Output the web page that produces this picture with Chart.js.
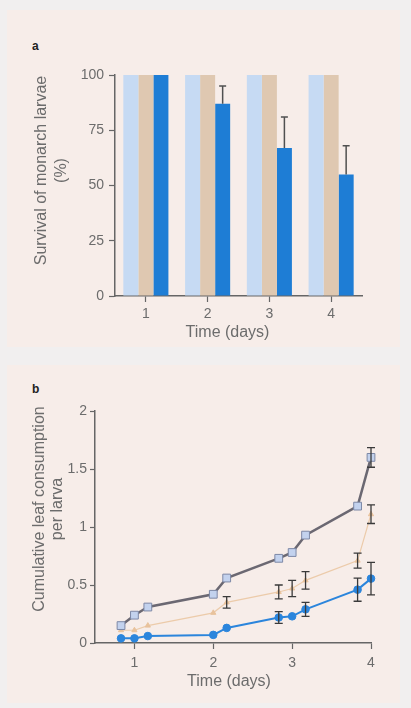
<!DOCTYPE html>
<html><head><meta charset="utf-8">
<script src="https://cdn.jsdelivr.net/npm/chart.js@4/dist/chart.umd.min.js"></script>
<style>
html,body{margin:0;padding:0;background:#f1efef;width:411px;height:708px;overflow:hidden;position:relative;}
.panel{position:absolute;background:#f7ede9;}
#pa{left:7px;top:10px;width:393px;height:337px;}
#pb{left:7px;top:365px;width:393px;height:338px;}
.lbl{position:absolute;font:bold 12px "Liberation Sans",Arial,sans-serif;color:#222;}
canvas{position:absolute;left:0;}
#ca{top:0;width:411px;height:350px;}
#cb{top:350px;width:411px;height:358px;}
</style></head>
<body>
<div class="panel" id="pa"></div><div class="panel" id="pb"></div>
<div class="lbl" style="left:32px;top:39px">a</div>
<div class="lbl" style="left:32px;top:382px">b</div>
<canvas id="ca" width="411" height="350"></canvas>
<canvas id="cb" width="411" height="358"></canvas>
<script>
// ---- Panel a data ----
const days = ['1', '2', '3', '4'];
const survNoPollen = [100, 100, 100, 100];
const survUntransformed = [100, 100, 100, 100];
const survBt = [100, 87, 67, 55];
const survBtErr = [0, 8, 14, 13];
const survTicks = [0, 25, 50, 75, 100];
const survYTitle = ['Survival of monarch larvae', '(%)'];
const xTitle = 'Time (days)';

// ---- Panel b data ----
const times = [0.83, 1.0, 1.17, 2.0, 2.17, 2.83, 3.0, 3.17, 3.83, 4.0];
const leafNoPollen = [0.15, 0.24, 0.31, 0.42, 0.56, 0.73, 0.78, 0.93, 1.18, 1.6];
const leafNoPollenErr = [0, 0, 0, 0, 0, 0, 0, 0, 0, 0.085];
const leafUntransformed = [0.11, 0.11, 0.15, 0.26, 0.35, 0.44, 0.47, 0.54, 0.71, 1.11];
const leafUntransformedErr = [0, 0, 0, 0, 0.05, 0.06, 0.07, 0.075, 0.065, 0.08];
const leafBt = [0.04, 0.04, 0.06, 0.07, 0.13, 0.22, 0.23, 0.29, 0.46, 0.555];
const leafBtErr = [0, 0, 0, 0, 0, 0.05, 0, 0.06, 0.1, 0.14];
const timeTicks = [1, 2, 3, 4];
const leafTicks = [0, 0.5, 1, 1.5, 2];
const leafYTitle = ['Cumulative leaf consumption', 'per larva'];

const FONT = '"Liberation Sans", Arial, Helvetica, sans-serif';
const AXIS = '#666';
const TXT = '#6c6c6c';

// axis titles, placed relative to the chart area
function titlePlugin(yLines, yX, yLineGap, yShift, xShift, xY) {
  return {
    id: 'titles',
    afterDraw(chart) {
      const ca = chart.chartArea, ctx = chart.ctx;
      ctx.save();
      ctx.fillStyle = TXT;
      ctx.font = '16px ' + FONT;
      ctx.textAlign = 'center';
      ctx.textBaseline = 'middle';
      ctx.fillText(xTitle, (ca.left + ca.right) / 2 + xShift, ca.bottom + xY);
      ctx.translate(yX, (ca.top + ca.bottom) / 2 + yShift);
      ctx.rotate(-Math.PI / 2);
      yLines.forEach((t, i) => ctx.fillText(t, 0, i * yLineGap));
      ctx.restore();
    }
  };
}

// ---- Panel a ----
const barErrPlugin = {
  id: 'barErr',
  afterDatasetsDraw(chart) {
    const meta = chart.getDatasetMeta(2);
    const ys = chart.scales.y;
    const ctx = chart.ctx;
    ctx.save();
    ctx.strokeStyle = '#505050';
    ctx.lineWidth = 1.5;
    meta.data.forEach((el, i) => {
      const e = survBtErr[i];
      if (!e) return;
      const top = ys.getPixelForValue(survBt[i] + e);
      ctx.beginPath();
      ctx.moveTo(el.x, el.y);
      ctx.lineTo(el.x, top);
      ctx.moveTo(el.x - 3.5, top);
      ctx.lineTo(el.x + 3.5, top);
      ctx.stroke();
    });
    ctx.restore();
  }
};

new Chart(document.getElementById('ca'), {
  type: 'bar',
  data: {
    labels: days,
    datasets: [
      { label: 'No pollen', data: survNoPollen, backgroundColor: '#c6daf3' },
      { label: 'Untransformed pollen', data: survUntransformed, backgroundColor: '#dfc8b1' },
      { label: 'Bt pollen', data: survBt, backgroundColor: '#1e7dd5' }
    ]
  },
  options: {
    responsive: false,
    animation: false,
    events: [],
    layout: { padding: { left: 33, right: 49, top: 75, bottom: 8 } },
    datasets: { bar: { categoryPercentage: 0.73, barPercentage: 1.0, borderWidth: 0 } },
    plugins: { legend: { display: false }, tooltip: { enabled: false } },
    scales: {
      x: {
        type: 'category',
        afterFit: s => { s.height = 46; },
        grid: { drawOnChartArea: false, offset: false, tickLength: 6, color: AXIS, tickWidth: 1.2 },
        border: { color: AXIS, width: 1.5 },
        ticks: { color: TXT, font: { family: FONT, size: 14 }, padding: 4 }
      },
      y: {
        type: 'linear', min: 0, max: 100,
        afterFit: s => { s.width = 82; },
        afterBuildTicks: s => { s.ticks = survTicks.map(v => ({ value: v })); },
        grid: { drawOnChartArea: false, tickLength: 6, color: AXIS, tickWidth: 1.2 },
        border: { color: AXIS, width: 1.5 },
        ticks: { color: TXT, font: { family: FONT, size: 14 }, padding: 5, callback: v => String(v) }
      }
    }
  },
  plugins: [barErrPlugin, titlePlugin(survYTitle, 42, 20, -15, -11, 37)]
});

// ---- Panel b ----
const errSets = [leafNoPollenErr, leafUntransformedErr, leafBtErr];
const valSets = [leafNoPollen, leafUntransformed, leafBt];
const lineErrPlugin = {
  id: 'lineErr',
  afterDatasetsDraw(chart) {
    const xs = chart.scales.x, ys = chart.scales.y;
    const ctx = chart.ctx;
    ctx.save();
    ctx.strokeStyle = '#3a3a3a';
    ctx.lineWidth = 1.3;
    errSets.forEach((errs, d) => {
      errs.forEach((e, i) => {
        if (!e) return;
        const x = xs.getPixelForValue(times[i]);
        const y1 = ys.getPixelForValue(valSets[d][i] + e);
        const y2 = ys.getPixelForValue(valSets[d][i] - e);
        ctx.beginPath();
        ctx.moveTo(x, y1); ctx.lineTo(x, y2);
        ctx.moveTo(x - 4, y1); ctx.lineTo(x + 4, y1);
        ctx.moveTo(x - 4, y2); ctx.lineTo(x + 4, y2);
        ctx.stroke();
      });
    });
    ctx.restore();
  }
};
const pts = arr => times.map((t, i) => ({ x: t, y: arr[i] }));

new Chart(document.getElementById('cb'), {
  type: 'scatter',
  data: {
    datasets: [
      { label: 'No pollen', data: pts(leafNoPollen), showLine: true, clip: false,
        borderColor: '#6b6872', borderWidth: 2.5,
        pointStyle: 'rect', pointRadius: 5.5, pointBackgroundColor: '#c3d2ee', pointBorderColor: '#7d88a6', pointBorderWidth: 1 },
      { label: 'Untransformed pollen', data: pts(leafUntransformed), showLine: true, clip: false,
        borderColor: '#eccbaa', borderWidth: 1.2,
        pointStyle: 'triangle', pointRadius: 3, pointBackgroundColor: '#e8c29c', pointBorderColor: '#e8c29c', pointBorderWidth: 1 },
      { label: 'Bt pollen', data: pts(leafBt), showLine: true, clip: false,
        borderColor: '#2b85dc', borderWidth: 2,
        pointStyle: 'circle', pointRadius: 3.8, pointBackgroundColor: '#2b85dc', pointBorderColor: '#2b85dc', pointBorderWidth: 1 }
    ]
  },
  options: {
    responsive: false,
    animation: false,
    events: [],
    layout: { padding: { left: 31, right: 40, top: 61, bottom: 17 } },
    plugins: { legend: { display: false }, tooltip: { enabled: false } },
    scales: {
      x: {
        type: 'linear', min: 0.5, max: 4,
        afterFit: s => { s.height = 48; },
        afterBuildTicks: s => { s.ticks = timeTicks.map(v => ({ value: v })); },
        grid: { drawOnChartArea: false, tickLength: 6, color: AXIS, tickWidth: 1.2 },
        border: { color: AXIS, width: 1.5 },
        ticks: { color: TXT, font: { family: FONT, size: 14 }, padding: 6, callback: v => String(v) }
      },
      y: {
        type: 'linear', min: 0, max: 2,
        afterFit: s => { s.width = 64; },
        afterBuildTicks: s => { s.ticks = leafTicks.map(v => ({ value: v })); },
        grid: { drawOnChartArea: false, tickLength: 5, color: AXIS, tickWidth: 1.2 },
        border: { color: AXIS, width: 1.5 },
        ticks: { color: TXT, font: { family: FONT, size: 14 }, padding: 3, callback: v => String(v) }
      }
    }
  },
  plugins: [lineErrPlugin, titlePlugin(leafYTitle, 40, 18, -18, -4, 39)]
});
</script>
</body></html>
